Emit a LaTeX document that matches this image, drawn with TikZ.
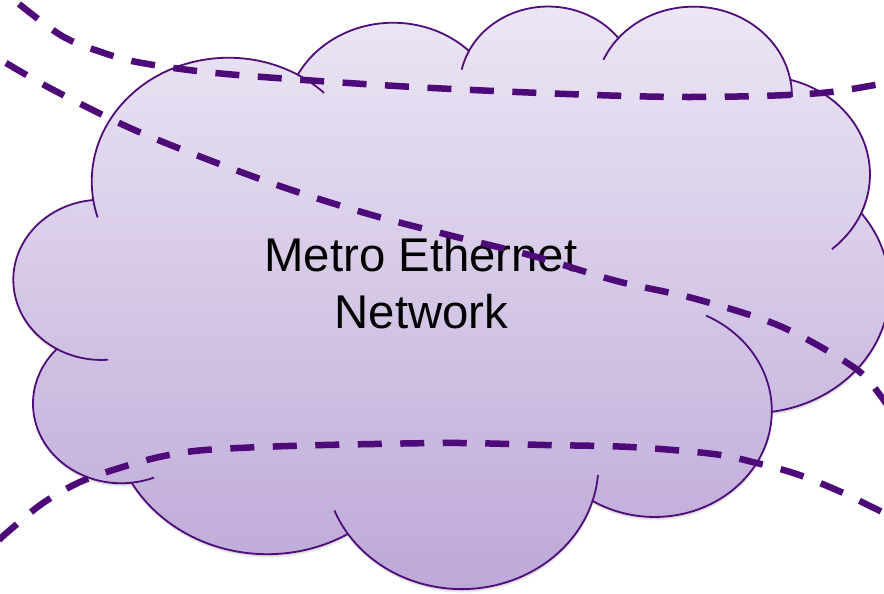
\documentclass[tikz,border=0pt]{standalone}
\usepackage{fontspec}
\setmainfont{Liberation Sans}

\definecolor{cloudline}{RGB}{80,12,122}
\definecolor{cloudtop}{RGB}{237,231,245}
\definecolor{cloudbottom}{RGB}{188,167,215}
\definecolor{routeline}{RGB}{78,10,120}

% Outline of the cloud: eleven elliptic bumps, chained clockwise
\newcommand\cloudoutline{%
  (93.01,395.69)
  arc[start angle=187.745, end angle=59.63,   x radius=136.81bp, y radius=123.88bp]
  arc[start angle=152.02,  end angle=45.43,   x radius=108.04bp, y radius=97.96bp]
  arc[start angle=153.49,  end angle=37.33,   x radius=88.43bp,  y radius=80.14bp]
  arc[start angle=139.71,  end angle=10.21,   x radius=98.40bp,  y radius=88.90bp]
  arc[start angle=74.77,   end angle=-23.21,  x radius=108.04bp, y radius=98.04bp]
  arc[start angle=37.52,   end angle=-81.86,  x radius=137.25bp, y radius=124.29bp]
  arc[start angle=-0.46,   end angle=-121.98, x radius=117.20bp, y radius=106.05bp]
  arc[start angle=-16.85,  end angle=-146.24, x radius=136.79bp, y radius=124.22bp]
  arc[start angle=-58.99,  end angle=-150.20, x radius=156.40bp, y radius=142.12bp]
  arc[start angle=-83.31,  end angle=-223.12, x radius=88.33bp,  y radius=79.77bp]
  arc[start angle=-120.36, end angle=-264.11, x radius=88.03bp,  y radius=80.14bp]
  -- cycle}

% Inner fold of a bump: centre, x radius, y radius, start and end angle
\newcommand\cloudfold[5]{%
  \draw[cloudedge] ([shift={(#4:#2bp and #3bp)}]#1)
    arc[start angle=#4, end angle=#5, x radius=#2bp, y radius=#3bp];}

\begin{document}
\begin{tikzpicture}[x=1bp,y=1bp,
  cloudedge/.style={draw=cloudline, line width=1.8bp},
  route/.style={draw=routeline, line width=6.5bp,
                dash pattern=on 24bp off 18.5bp, line cap=butt},
  cloudtext/.style={font=\fontsize{47.5}{57}\selectfont, text=black,
                    inner sep=0pt, anchor=base}]
\useasboundingbox (0,0) rectangle (884,594);

% centres of the bumps that carry inner folds
\coordinate (c1)  at (228.57,412.39);
\coordinate (c3)  at (548.12,507.32);
\coordinate (c4)  at (693.50,498.42);
\coordinate (c5)  at (761.97,419.58);
\coordinate (c7)  at (654.63,183.08);
\coordinate (c8)  at (461.64,129.13);
\coordinate (c10) at (121.33,190.52);
\coordinate (c11) at (101.35,314.19);

% soft drop shadow
\fill[black, opacity=0.07, shift={(0.5,-3.5)}] \cloudoutline;
\fill[black, opacity=0.10, shift={(0.3,-2)}] \cloudoutline;

% cloud body
\shade[top color=cloudtop, bottom color=cloudbottom] \cloudoutline;
\draw[cloudedge] \cloudoutline;

% inner folds
\cloudfold{c11}{88.03}{80.14}{-85.55}{-120.36}
\cloudfold{c10}{88.33}{79.77}{-68.24}{-83.31}
\cloudfold{c8}{136.79}{124.22}{-146.24}{-158.48}
\cloudfold{c8}{136.79}{124.22}{-4.74}{-16.85}
\cloudfold{c7}{117.20}{106.05}{64.03}{-0.46}
\cloudfold{c5}{108.04}{98.04}{-23.21}{-49.64}
\cloudfold{c4}{98.40}{88.90}{10.21}{-0.82}
\cloudfold{c4}{98.40}{88.90}{156.28}{139.71}
\cloudfold{c3}{88.43}{80.14}{167.73}{153.49}
\cloudfold{c1}{136.81}{123.88}{59.63}{45.74}
\cloudfold{c1}{136.81}{123.88}{-163.19}{-172.255}

% label
\node[cloudtext] (title1) at (421,322) {Metro Ethernet};
\node[cloudtext] (title2) at (421.5,265) {Network};

% dashed routes crossing the network
\draw[route] plot[smooth, tension=0.55] coordinates {
  (19,590) (62,558) (101,542) (142,531) (226,520) (396,508)
  (566,500) (695,497) (821,501) (905,515)};
\draw[route] plot[smooth, tension=0.55] coordinates {
  (6,531) (53.5,504) (130,466) (209,434) (288.5,405) (370,379.5)
  (452.5,358) (535,337.5) (616.5,313) (696,295) (781,267.5)
  (854,226.5) (880,199) (900,169)};
\draw[route] plot[smooth, tension=0.55] coordinates {
  (-1,54) (10,64) (43,91) (80,112) (121,126.5) (161.5,137.5)
  (205,144) (288.5,148) (375,150) (459.5,151) (545,149) (630,147)
  (713.5,140) (756.5,131) (796.5,120) (836.5,104) (873,86.5) (900,73)};
\end{tikzpicture}
\end{document}
